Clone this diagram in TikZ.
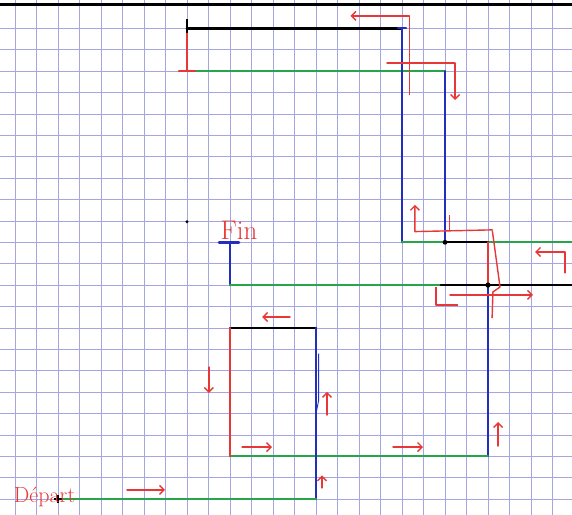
\documentclass[tikz,border=0pt]{standalone}
\usepackage{fontspec}
\usepackage{tikz}
\usetikzlibrary{arrows.meta}
\definecolor{gridc}{RGB}{165,165,225}
\definecolor{pgreen}{RGB}{40,165,75}
\definecolor{pblue}{RGB}{35,45,190}
\definecolor{pred}{RGB}{232,55,55}

\begin{document}
\begin{tikzpicture}[x=21.5pt,y=-21.4pt,>={Straight Barb[length=4.5pt,width=9pt]},
    seg/.style={line width=2.2pt,line cap=round},
    hint/.style={->,pred,line width=1.4pt,line join=round,line cap=round},
    handtext/.style={pred,inner sep=0pt,anchor=base west}]
    \path[use as bounding box] (-0.698,-1.322) rectangle (25.907,22.743);
    % squared paper
    \foreach \i in {0,...,25}
      \draw[gridc,line width=0.7pt] (\i,-1.322) -- (\i,22.743);
    \foreach \j in {0,...,22}
      \draw[gridc,line width=0.7pt] (-0.698,\j) -- (25.907,\j);
    \draw[line width=3pt] (-0.698,-1.09) -- (25.907,-1.09);

    \coordinate (a) at (8,0);
    \coordinate (b) at (18,0);
    \coordinate (c) at (8,2);
    \coordinate (d) at (20,2);
    \coordinate (e) at (18,10);
    \coordinate (f) at (20,10);
    \coordinate (g) at (22,10);
    \coordinate (ea) at (25.907,10);
    \coordinate (fin) at (10,10);
    \coordinate (h) at (10,12);
    \coordinate (hk) at (19.8,12);
    \coordinate (j) at (22,12);
    \coordinate (eb) at (25.907,12);
    \coordinate (k) at (22,20);
    \coordinate (l) at (10,20);
    \coordinate (m) at (10,14);
    \coordinate (n) at (14,14);
    \coordinate (o) at (14,22);
    \coordinate (dep) at (2,22);

    \path[seg]
      (a) edge[pred] (c)
      (c) edge[pgreen] (d)
      (a) edge[black,line width=2.8pt] (b)
      (b) edge[pblue] (e)
      (d) edge[pblue] (f)
      (e) edge[pgreen] (ea)
      (f) edge[black] (g)
      (g) edge[pred] (j)
      (fin) edge[pblue] (h)
      (h) edge[pgreen] (hk)
      (hk) edge[black] (eb)
      (j) edge[pblue] (k)
      (l) edge[pgreen] (k)
      (m) edge[black] (n)
      (m) edge[pred] (l)
      (n) edge[pblue] (o)
      (dep) edge[pgreen] (o);

    % end ticks
    \draw[pred,seg,line width=2.6pt] ([xshift=-8pt]c) -- ([xshift=8pt]c);
    \draw[line width=2.6pt] ([yshift=9pt]a) -- ([yshift=-5pt]a);
    \draw[pblue,seg] ([xshift=-4pt]b) -- ([xshift=4pt]b);
    \draw[pblue,seg,line width=2.6pt] ([xshift=-11pt]fin) -- ([xshift=9pt]fin);
    \fill (f) circle (2.4pt) (j) circle (2.6pt);
    \draw[line width=2pt] ([xshift=-4pt]dep) -- ([xshift=4pt]dep)
      ([yshift=-4pt]dep) -- ([yshift=4pt]dep);
    \draw[pblue,line width=0.9pt] (14.12,15.2) -- (14.12,17.4) -- (14.02,17.9);
    \fill (8,9.04) circle (1.6pt);

    % direction marks
    \draw[hint] (18.35,3.1) -- (18.35,-0.58) -- (15.6,-0.58);
    \draw[hint] (17.3,1.62) -- (20.47,1.62) -- (20.47,3.35);
    \draw[hint] (22.2,9.42) -- (18.6,9.5) -- (18.6,8.25);
    \draw[pred,line width=1.4pt] (20.2,8.72) -- (20.2,9.45);
    \draw[pred,line width=1.4pt,line join=round] (22.2,9.45) -- (22.56,12.09)
      -- (22.23,12.32) -- (22.19,13.54);
    \draw[hint] (20.23,12.46) -- (24.09,12.46);
    \draw[hint] (25.58,11.43) -- (25.58,10.45) -- (24.19,10.45);
    \draw[pred,line width=1.4pt,line join=round] (19.58,12.09) -- (19.58,12.93)
      -- (20.6,12.93);
    \draw[hint] (12.79,13.49) -- (11.49,13.49);
    \draw[hint] (9.02,15.83) -- (9.02,17.04);
    \draw[hint] (10.56,19.57) -- (11.95,19.57);
    \draw[hint] (5.21,21.57) -- (6.98,21.57);
    \draw[hint] (14.51,18.07) -- (14.51,16.99);
    \draw[hint] (17.58,19.57) -- (18.98,19.57);
    \draw[hint] (22.47,19.52) -- (22.47,18.4);
    \draw[hint] (14.28,21.48) -- (14.28,20.89);

    \node[handtext,font=\fontsize{22}{22}\selectfont] (deplbl) at (-0.06,22.15) {Départ};
    \node[handtext,font=\fontsize{27}{27}\selectfont] (finlbl) at (9.55,9.85) {Fin};
  \end{tikzpicture}
\end{document}
